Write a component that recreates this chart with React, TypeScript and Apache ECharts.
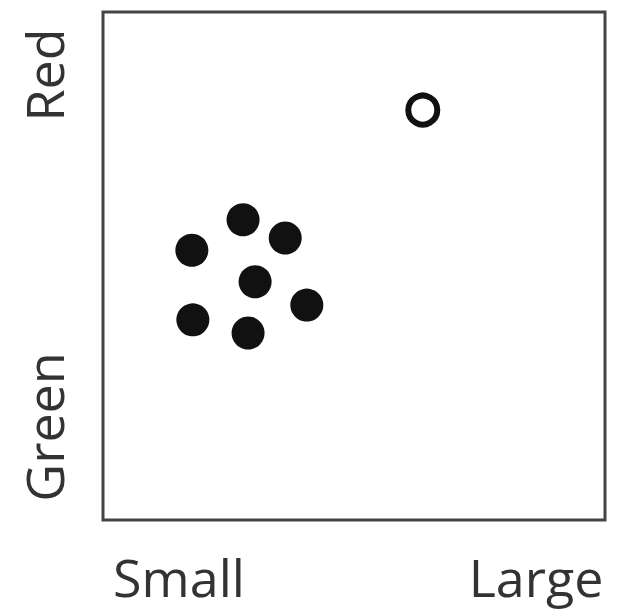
import React, { useEffect, useRef } from "react";
import * as echarts from "echarts";

const filledX = [27.9, 36.3, 17.7, 30.3, 40.6, 17.9, 28.9];
const filledY = [59.1, 55.5, 53.1, 46.9, 42.3, 39.4, 36.8];
const openX = [63.7];
const openY = [80.7];
const xLabels = ["Small", "Large"];
const yLabels = ["Red", "Green"];

export default function App() {
  const ref = useRef<HTMLDivElement>(null);
  useEffect(() => {
    const chart = echarts.init(ref.current!, null, { renderer: "svg" });
    const font = "'Open Sans', sans-serif";
    const txt = (text: string, x: number, y: number, rot = 0) => ({
      type: "text",
      x,
      y,
      rotation: rot,
      style: {
        text,
        font: `52px ${font}`,
        fill: "#333",
        textAlign: "center",
        textVerticalAlign: "middle",
      },
    });
    chart.setOption({
      animation: false,
      backgroundColor: "#ffffff",
      grid: {
        left: 103,
        right: 18,
        top: 12,
        bottom: 94,
        show: true,
        borderColor: "#444",
        borderWidth: 3,
        backgroundColor: "transparent",
      },
      xAxis: { type: "value", min: 0, max: 100, show: false },
      yAxis: { type: "value", min: 0, max: 100, show: false },
      series: [
        {
          type: "scatter",
          data: filledX.map((x, i) => [x, filledY[i]]),
          symbolSize: 33,
          itemStyle: { color: "#111", opacity: 1 },
        },
        {
          type: "scatter",
          data: openX.map((x, i) => [x, openY[i]]),
          symbolSize: 29,
          itemStyle: { color: "#fff", borderColor: "#111", borderWidth: 6, opacity: 1 },
        },
      ],
      graphic: [
        txt(xLabels[0], 179, 576),
        txt(xLabels[1], 536, 576),
        txt(yLabels[0], 43, 75, Math.PI / 2),
        txt(yLabels[1], 43, 427, Math.PI / 2),
      ],
    });
    return () => chart.dispose();
  }, []);
  return (
    <div
      ref={ref}
      style={{ position: "absolute", left: 0, top: 0, width: 623, height: 614 }}
    />
  );
}
